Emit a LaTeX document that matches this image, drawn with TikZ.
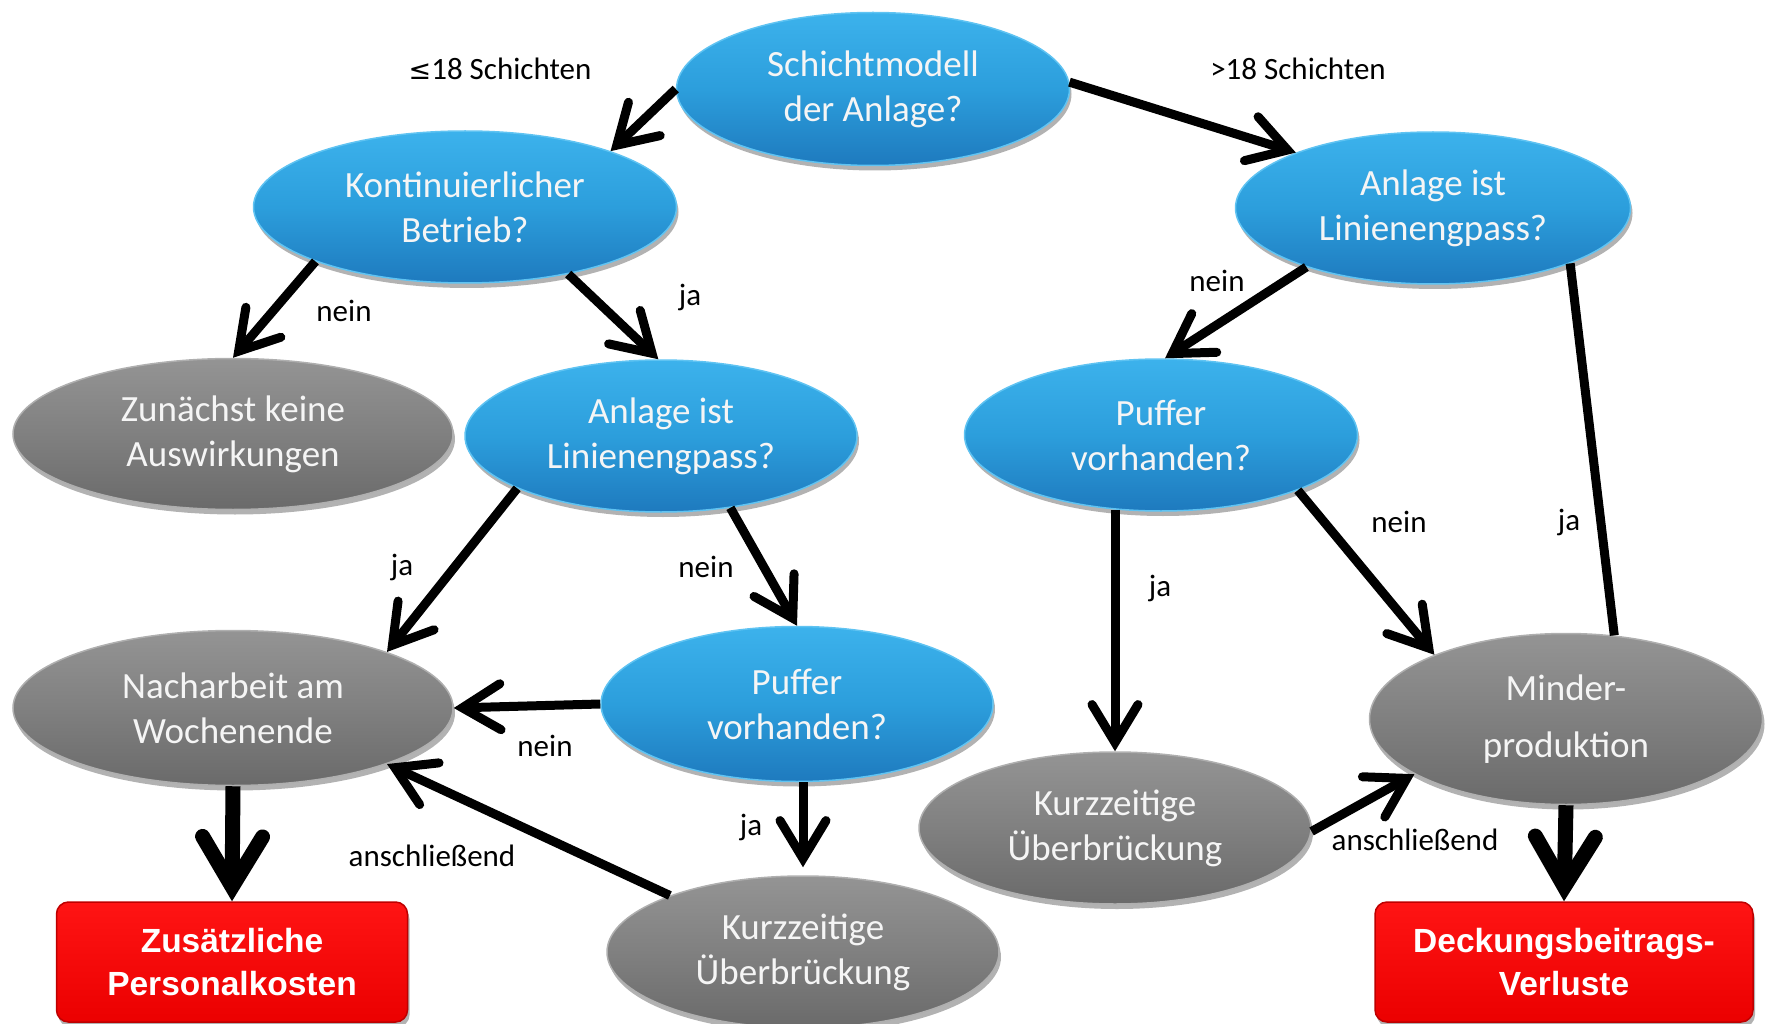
\documentclass[tikz,border=0pt]{standalone}
\usepackage{fontspec}
\setmainfont{Carlito}
\newfontfamily\redfont{Liberation Sans}
\newfontfamily\symfont{DejaVu Sans}
\usetikzlibrary{shapes.geometric,arrows.meta,shadows}
\definecolor{bltop}{RGB}{60,178,236}
\definecolor{blmid}{RGB}{44,158,220}
\definecolor{blbot}{RGB}{30,122,190}
\definecolor{blrim}{RGB}{95,195,242}
\definecolor{grtop}{RGB}{148,148,148}
\definecolor{grmid}{RGB}{128,128,128}
\definecolor{grbot}{RGB}{106,106,106}
\definecolor{grrim}{RGB}{175,175,175}
\definecolor{rdtop}{RGB}{255,20,20}
\definecolor{rdbot}{RGB}{235,0,0}
\definecolor{rdrim}{RGB}{190,0,0}
\definecolor{txtw}{RGB}{245,245,245}
\tikzset{
  ell/.style={ellipse, inner sep=0pt, align=center, text=txtw,
    font=\fontsize{37}{45}\selectfont, line width=1.5pt,
    drop shadow={shadow xshift=2pt, shadow yshift=-5pt, opacity=0.3, fill=black}},
  blueell/.style={ell, top color=bltop, bottom color=blbot, middle color=blmid, draw=blrim},
  greyell/.style={ell, top color=grtop, bottom color=grbot, middle color=grmid, draw=grrim},
  redbox/.style={rectangle, rounded corners=12pt, inner sep=0pt, align=center, text=white,
    font=\redfont\bfseries\fontsize{33.5}{43}\selectfont, line width=1.5pt,
    top color=rdtop, bottom color=rdbot, draw=rdrim,
    drop shadow={shadow xshift=2pt, shadow yshift=-5pt, opacity=0.3, fill=black}},
  lbl/.style={inner sep=0pt, text=black, font=\fontsize{31}{34}\selectfont},
  arr/.style={line width=9pt, -{Straight Barb[length=38pt,width=46pt,line cap=round,line join=miter]}},
  bigarr/.style={line width=15pt, -{Straight Barb[length=50pt,width=60pt,line cap=round,line join=miter]}},
  plainline/.style={line width=9pt}
}
\begin{document}
\begin{tikzpicture}[x=1pt,y=-1pt]
\useasboundingbox (0,0) rectangle (1769,1024);
% nodes
\node[blueell, minimum width=393pt, minimum height=153pt] (s) at (873,89) {Schichtmodell\\der Anlage?};
\node[blueell, minimum width=423pt, minimum height=152pt] (k) at (465,207) {Kontinuierlicher\\Betrieb?};
\node[blueell, minimum width=395pt, minimum height=152pt] (a2) at (1433,208) {Anlage ist\\Linienengpass?};
\node[greyell, minimum width=440pt, minimum height=151pt] (z) at (233,434) {Zunächst keine\\Auswirkungen};
\node[blueell, minimum width=392pt, minimum height=152pt] (a1) at (661,436) {Anlage ist\\Linienengpass?};
\node[blueell, minimum width=393pt, minimum height=152pt] (p2) at (1161,435) {Puffer\\vorhanden?};
\node[greyell, minimum width=440pt, minimum height=155pt] (n) at (233,708) {Nacharbeit am\\Wochenende};
\node[blueell, minimum width=392pt, minimum height=155pt] (p1) at (797,704) {Puffer\\vorhanden?};
\node[greyell, minimum width=393pt, minimum height=171pt, font=\fontsize{37}{57}\selectfont] (m) at (1566,719) {Minder-\\produktion};
\node[greyell, minimum width=392pt, minimum height=152pt] (u2) at (1115,828) {Kurzzeitige\\Überbrückung};
\node[greyell, minimum width=392pt, minimum height=152pt] (u1) at (803,952) {Kurzzeitige\\Überbrückung};
\node[redbox, minimum width=351pt, minimum height=120pt] (r1) at (232,962) {Zusätzliche\\Personalkosten};
\node[redbox, minimum width=378pt, minimum height=120pt] (r2) at (1564,962) {Deckungsbeitrags-\\Verluste};
% labels
\node[lbl] (t1) at (500,69) {{\symfont\fontsize{27}{30}\selectfont ≤}18 Schichten};
\node[lbl] (t2) at (1298,69) {>18 Schichten};
\node[lbl] (t3) at (344,311) {nein};
\node[lbl] (t4) at (690,297) {ja};
\node[lbl] (t5) at (1217,281) {nein};
\node[lbl] (t6) at (402,567) {ja};
\node[lbl] (t7) at (706,567) {nein};
\node[lbl] (t8) at (1399,522) {nein};
\node[lbl] (t9) at (1569,522) {ja};
\node[lbl] (t10) at (1160,588) {ja};
\node[lbl] (t11) at (545,746) {nein};
\node[lbl] (t12) at (751,827) {ja};
\node[lbl] (t13) at (432,856) {anschließend};
\node[lbl] (t14) at (1415,840) {anschließend};
% connectors
\draw[arr] (s.180) -- (k.21);
\draw[arr] (s.2) -- (a2.158);
\draw[arr] (k.200.6) -- (z.90);
\draw[arr] (k.327.5) -- (a1.92);
\draw[arr] (a2.205.5) -- (p2.87);
\draw[plainline] (a2.338.7) -- (m.60);
\draw[arr] (a1.200.9) -- (n.20.8);
\draw[arr] (a1.314.6) -- (p1.90.7);
\draw[arr] (p2.239 -| u2.north) -- (u2.north);
\draw[arr] (p2.338.7) -- (m.154.4);
\draw[arr] (p1.180) -- (n.0);
\draw[arr, shorten >=8pt] (u1.north |- p1.south) -- (u1.north);
\draw[arr] (u1.157.3) -- (n.340.2);
\draw[arr] (u2.359) -- (m.200.7);
\draw[bigarr] (n.south) -- (r1.north);
\draw[bigarr] (m.south) -- (r2.north);
\end{tikzpicture}
\end{document}
